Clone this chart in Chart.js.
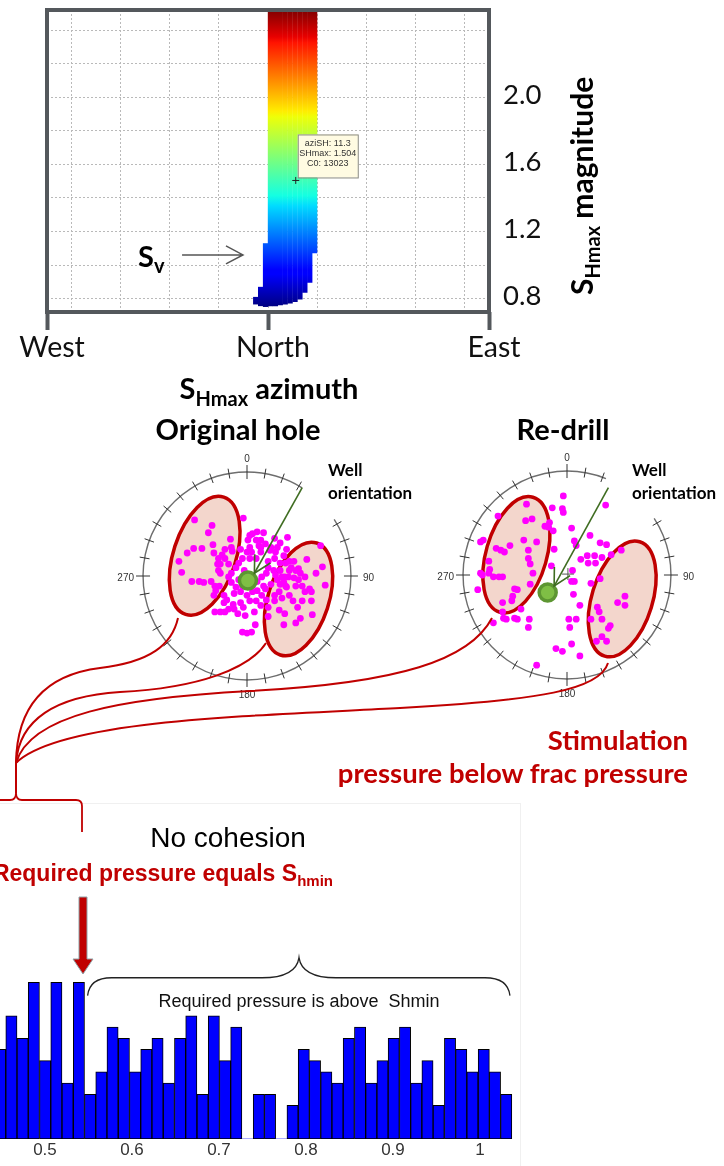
<!DOCTYPE html>
<html>
<head>
<meta charset="utf-8">
<script src="https://cdn.jsdelivr.net/npm/chart.js@4.4.1/dist/chart.umd.min.js"></script>
<style>
  html, body { margin: 0; padding: 0; background: #fff; }
  #page { position: relative; width: 724px; height: 1166px; overflow: hidden; background: #fff; }
  #page canvas, #page svg { position: absolute; }
  #histPanel { position: absolute; left: -1px; top: 803px; width: 520px; height: 380px; border: 1px solid #f0f0f0; }
</style>
</head>
<body>
<div id="page">
  <canvas id="azimuthChart" width="724" height="360" style="left:0;top:0"></canvas>
  <div id="histPanel"></div>
  <canvas id="histChart" width="519" height="363" style="left:0;top:803px"></canvas>
  <canvas id="originalChart" width="300" height="300" style="left:97px;top:426px"></canvas>
  <canvas id="redrillChart" width="300" height="300" style="left:417px;top:425px"></canvas>

  <svg id="overlay" width="724" height="1166" style="left:0;top:0;pointer-events:none">
    <g font-family="Lato, sans-serif" font-weight="bold" fill="#000">
      <text x="269" y="399" font-size="29" text-anchor="middle">S<tspan font-size="20" dy="7">Hmax</tspan><tspan dy="-7"> azimuth</tspan></text>
      <text x="238" y="440" font-size="29" text-anchor="middle">Original hole</text>
      <text x="563" y="440" font-size="29" text-anchor="middle">Re-drill</text>
      <text transform="translate(593,295) rotate(-90)" font-size="30">S<tspan font-size="20" dy="7">Hmax</tspan><tspan dy="-7"> magnitude</tspan></text>
      <text x="328" y="476" font-size="17">Well</text>
      <text x="328" y="499" font-size="17">orientation</text>
      <text x="632" y="476" font-size="17">Well</text>
      <text x="632" y="499" font-size="17">orientation</text>
    </g>

    <!-- links from the stressed zones down to the bracket -->
    <g fill="none" stroke="#c00000" stroke-width="2">
      <path d="M178,618 C172,645 150,662 100,668 C52,674 17,700 16,763"/>
      <path d="M266,643 C250,668 200,688 120,692 C55,696 19,720 16,763"/>
      <path d="M492,618 C470,660 400,683 250,691 C120,698 30,715 16,763"/>
      <path d="M608,663 C600,690 540,700 400,708 C250,716 60,720 16,763"/>
      <path d="M16,763 V793"/>
      <path d="M0,800 H10 Q16,800 16,793 Q16,800 22,800 H76 Q82,800 82,806 V832" stroke-width="1.8"/>
    </g>

    <g font-family="Lato, sans-serif" font-weight="bold" fill="#c00000" font-size="27.5" text-anchor="end">
      <text x="688" y="750">Stimulation</text>
      <text x="688" y="783">pressure below frac pressure</text>
    </g>

    <text x="228" y="847" font-family="'Liberation Sans', Arial, sans-serif" font-size="28" text-anchor="middle" fill="#000">No cohesion</text>
    <text x="333" y="881" font-family="'Liberation Sans', Arial, sans-serif" font-weight="bold" font-size="23" text-anchor="end" fill="#c00000">Required pressure equals S<tspan font-size="15" dy="5">hmin</tspan></text>
    <path d="M79,897 H87 V959 H93 L83,974 L73,959 H79 Z" fill="#c00000" stroke="#8fa3a8" stroke-width="1"/>
  </svg>
</div>

<script>
//Top panel: SHmax azimuth (deg from North) against SHmax magnitude
const azimuthTicks = [-90, 0, 90];
const azimuthTickLabels = ['West', 'North', 'East'];
const azimuthGrid = [-80, -60, -40, -20, 0, 20, 40, 60, 80];
const magnitudeGrid = [0.8, 1.0, 1.2, 1.4, 1.6, 1.8, 2.0, 2.2, 2.4];
const magnitudeTicks = [0.8, 1.2, 1.6, 2.0];

//Failure band: azimuth bins with lowest and highest SHmax
const bandAzimuth = [-5, -3, -1, 1, 3, 5, 7, 9, 11, 13, 15, 17, 19];
const bandLow = [0.765, 0.755, 0.75, 0.755, 0.755, 0.76, 0.765, 0.77, 0.78, 0.795, 0.835, 0.895, 1.07];
const bandHigh = [0.81, 0.87, 1.13, 2.52, 2.52, 2.52, 2.52, 2.52, 2.52, 2.52, 2.52, 2.52, 2.52];

//Picked point
const probeAzimuth = 11.3;
const probeMagnitude = 1.504;
const probeCohesion = 13023;

//Vertical stress marker
const svMagnitude = 1.06;

//Stereonets: poles to fractures (projected, net radius 113)
const netRadius = 113;
const originalPoles = [
  [-57,61],[-38,55],[-42,47],[-74,16],[-71,4],[-65,25],[-58,30],[-49,30],[-37,34],[-18,40],[-36,25],[-27,23],
  [-31,19],[-24,19],[-17,31],[-16,27],[-32,13],[-29,13],[-20,13],[-31,6],[-29,3],[-52,-6],[-47,-7],[-39,-6],
  [-35,-11],[-30,-11],[-34,-16],[-25,-21],[-36,-21],[-60,-6],[-24,29],
  [-4,63],[11,48],[18,47],[10,39],[1,39],[3,31],[15,39],[20,35],[30,41],[44,42],[36,36],[43,29],[40,22],[31,26],
  [25,28],[15,26],[10,19],[3,19],[0,26],[-7,29],[-9,14],[-3,6],[-17,3],[-12,9],[23,16],[30,19],[23,9],[29,6],
  [36,6],[41,-1],[46,6],[51,16],[42,14],[36,14],[33,-4],[26,-9],[18,-11],[11,-16],[16,-21],[6,-17],[0,-21],
  [-7,-17],[-5,-11],[-12,-12],[-17,-7],[-14,-19],[-15,-31],[-22,-26],[-20,-36],[-14,-36],[-24,-39],[-35,-39],
  [-29,-39],[-4,-34],[-7,-29],[10,-27],[8,-39],[-2,-43],[9,-53],[-5,-61],[0,-62],[5,-61],[21,-26],[30,-21],
  [23,-34],[36,-9],[42,-11],[6,46],[13,33],[5,26],[-5,19],[16,-1],[21,3],[11,-6],[1,-11],[-9,-4],[-20,-1],
  [31,1],[38,-1],[20,-14],[3,-27],[15,-32],[26,31],[33,31],[3,44],[15,31],[-25,-29],[-10,-41],
  [65,18],[82,10],[85,-10],[80,33],[58,3],[56,-4],[53,-11],[60,-11],[63,-17],[68,-14],[70,-17],[46,16],
  [40,-7],[43,-12],[35,-17],[38,-24],[46,-21],[50,-27],[60,-27],[70,-27],[55,-34],[41,-41],[35,-37],[23,-44],
  [40,-53],[53,-51],[58,-46],[71,-42],[30,-27],[56,8],[63,-1],[51,-2],[45,-1],[48,9],[75,3],[53,6]
];
const redrillPoles = [
  [-4,86],[-5,72],[-4,68],[-16,73],[-24,53],[-20,52],[-15,48],[5,51],[25,43],[42,76],[8,37],[10,32],[22,21],
  [30,21],[38,19],[36,35],[43,33],[59,27],[48,22],[31,13],[23,13],[15,17],[6,5],[5,-7],[8,-7],[7,-21],[-14,28],
  [-17,10],[14,-33],[26,-9],[36,-4],[33,-35],[26,-48],[35,-40],[38,-48],[45,-58],[47,-55],[55,-30],[63,-23],
  [63,-33],[38,-67],[43,-72],[32,-72],[2,-48],[3,-57],[10,-48],[5,-75],[-12,-80],[-5,-83],[14,-88],[-33,-98],
  [-42,-57],[-41,-48],[-57,-47],[-54,-48],[-66,-48],[-69,-47],[-80,-52],[-70,-40],[-50,-37],[-60,-28],[-57,-15],
  [-54,-16],[-40,-10],[-37,2],[-40,12],[-42,18],[-47,38],[-33,36],[-42,27],[-62,32],[-77,29],[-72,27],[-68,25],
  [-94,36],[-91,38],[-94,2],[-92,0],[-84,6],[-80,-2],[-74,-2],[-70,-2],[-85,2],[-97,-16],[-44,77],[-45,59],
  [-38,61],[-75,64],[-59,-23],[-70,-30],[-85,15],[-19,57]
];
const originalWellPole = [1, -5];
const redrillWellPole = [-21, -19];
const originalWell = { tail: [60, 96], tip: [8, 3] };
const redrillWell = { tail: [45, 95], tip: [-14, -12] };
const redrillCentre = [1, 1];

//Bottom panel: histogram of required pressure (no cohesion)
const binCentres = [
  0.4485, 0.4614, 0.4743, 0.4872, 0.5002, 0.5131, 0.5260, 0.5390, 0.5519, 0.5648, 0.5777, 0.5907,
  0.6036, 0.6165, 0.6294, 0.6424, 0.6553, 0.6682, 0.6812, 0.6941, 0.7070, 0.7199, 0.7329, 0.7458,
  0.7587, 0.7717, 0.7846, 0.7975, 0.8104, 0.8234, 0.8363, 0.8492, 0.8622, 0.8751, 0.8880, 0.9009,
  0.9139, 0.9268, 0.9397, 0.9526, 0.9656, 0.9785, 0.9914, 1.0044, 1.0173, 1.0302
];
const binCounts = [
  8, 11, 9, 14, 7, 14, 5, 14, 4, 6, 10, 9, 6, 8, 9, 5, 9, 11, 4, 11, 7, 10, 0,
  4, 4, 0, 3, 8, 7, 6, 5, 9, 10, 5, 7, 9, 10, 5, 7, 3, 9, 8, 6, 8, 6, 4
];
const pressureTicks = [0.5, 0.6, 0.7, 0.8, 0.9, 1.0];

//Jet colour map over the magnitude range
const colourLow = 0.75;
const colourHigh = 2.52;
const jetStops = [
  [0, '#000080'], [0.11, '#0000ff'], [0.125, '#0000ff'], [0.34, '#00dbff'], [0.375, '#14ffe2'],
  [0.64, '#eeff08'], [0.66, '#ffec00'], [0.89, '#ff1300'], [0.91, '#e80000'], [1, '#800000']
];

function jetFill(context) {
  const chart = context.chart;
  if (!chart.chartArea) return '#0000ff';
  const y = chart.scales.y;
  const g = chart.ctx.createLinearGradient(0, y.getPixelForValue(colourLow), 0, y.getPixelForValue(colourHigh));
  jetStops.forEach(([t, c]) => g.addColorStop(t, c));
  return g;
}

function setTicks(values) {
  return scale => { scale.ticks = values.map(v => ({ value: v })); };
}

const frameColour = '#54585c';
const gridColour = '#b9b9b9';

//Plot frame, Sv arrow and readout box
const azimuthDecor = {
  id: 'azimuthDecor',
  afterDatasetsDraw(chart) {
    const { ctx, scales: { x, y } } = chart;
    ctx.save();

    //Sv marker
    const sy = y.getPixelForValue(svMagnitude);
    const ax0 = x.getPixelForValue(-35);
    const ax1 = x.getPixelForValue(-10.2);
    ctx.strokeStyle = '#555';
    ctx.lineWidth = 1.5;
    ctx.beginPath();
    ctx.moveTo(ax0, sy);
    ctx.lineTo(ax1, sy);
    ctx.moveTo(ax1 - 17, sy - 9);
    ctx.lineTo(ax1, sy);
    ctx.lineTo(ax1 - 17, sy + 9);
    ctx.stroke();

    const sx = x.getPixelForValue(-52.9);
    ctx.fillStyle = '#000';
    ctx.textAlign = 'left';
    ctx.textBaseline = 'alphabetic';
    ctx.font = 'bold 29px Lato';
    ctx.fillText('S', sx, sy + 12);
    const sw = ctx.measureText('S').width;
    ctx.font = 'bold 20px Lato';
    ctx.fillText('v', sx + sw, sy + 18);

    //Readout
    const px = x.getPixelForValue(probeAzimuth);
    const py = y.getPixelForValue(probeMagnitude);
    ctx.fillStyle = '#fffbe2';
    ctx.strokeStyle = '#8a8a80';
    ctx.lineWidth = 1;
    ctx.fillRect(px + 2, py - 46, 60, 43);
    ctx.strokeRect(px + 2.5, py - 45.5, 60, 43);
    ctx.fillStyle = '#333';
    ctx.font = '9px "Liberation Sans", Arial, sans-serif';
    ctx.textAlign = 'center';
    ctx.textBaseline = 'middle';
    ctx.fillText('aziSH: ' + probeAzimuth, px + 32, py - 37);
    ctx.fillText('SHmax: ' + probeMagnitude, px + 32, py - 27);
    ctx.fillText('C0: ' + probeCohesion, px + 32, py - 17);
    ctx.restore();
  },
  afterDraw(chart) {
    const { ctx, chartArea: a } = chart;
    ctx.save();
    ctx.strokeStyle = frameColour;
    ctx.lineWidth = 4;
    ctx.strokeRect(a.left, a.top, a.right - a.left, a.bottom - a.top);
    ctx.restore();
  }
};

new Chart(document.getElementById('azimuthChart'), {
  type: 'bar',
  data: {
    datasets: [
      {
        type: 'scatter',
        data: [{ x: probeAzimuth, y: probeMagnitude }],
        pointStyle: 'cross',
        pointRadius: 3.5,
        borderColor: '#222',
        borderWidth: 1
      },
      {
        data: bandAzimuth.map((a, i) => ({ x: a, y: [bandLow[i], bandHigh[i]] })),
        backgroundColor: jetFill,
        borderWidth: 0,
        barPercentage: 1.08,
        categoryPercentage: 1
      }
    ]
  },
  options: {
    responsive: false,
    animation: false,
    devicePixelRatio: 1,
    events: [],
    layout: { padding: { top: 10, left: 0, right: 0, bottom: 0 } },
    plugins: { legend: { display: false }, tooltip: { enabled: false } },
    scales: {
      x: {
        type: 'linear',
        min: -90,
        max: 90,
        offset: false,
        afterBuildTicks: setTicks([-90, ...azimuthGrid, 90]),
        afterFit: s => { s.height = 48; s.paddingLeft = 0; s.paddingRight = 0; },
        border: { display: false, dash: [2, 2] },
        grid: {
          offset: false,
          lineWidth: 1,
          tickLength: 18,
          tickWidth: 4,
          color: c => azimuthGrid.includes(c.tick.value) ? gridColour : 'rgba(0,0,0,0)',
          tickColor: c => azimuthTicks.includes(c.tick.value) ? frameColour : 'rgba(0,0,0,0)'
        },
        ticks: {
          autoSkip: false,
          maxRotation: 0,
          padding: 1,
          labelOffset: 5,
          color: '#111',
          font: { family: 'Lato', size: 28.5 },
          callback: v => {
            const i = azimuthTicks.indexOf(v);
            return i >= 0 ? azimuthTickLabels[i] : '';
          }
        }
      },
      y: {
        type: 'linear',
        position: 'left',
        min: 0.72,
        max: 2.52,
        afterBuildTicks: setTicks(magnitudeGrid),
        afterFit: s => { s.width = 47; s.paddingTop = 0; s.paddingBottom = 0; },
        border: { display: false, dash: [2, 2] },
        grid: { color: gridColour, lineWidth: 1, drawTicks: false },
        ticks: { display: false }
      },
      y2: {
        type: 'linear',
        position: 'right',
        min: 0.72,
        max: 2.52,
        afterBuildTicks: setTicks(magnitudeTicks),
        afterFit: s => { s.width = 235; s.paddingTop = 0; s.paddingBottom = 0; },
        border: { display: false },
        grid: { display: false, drawTicks: false, tickLength: 0 },
        ticks: {
          padding: 14,
          labelOffset: -2,
          color: '#111',
          font: { family: 'Lato', size: 27.5 },
          callback: v => v.toFixed(1)
        }
      }
    }
  },
  plugins: [azimuthDecor]
});

//Stereonet frame: ring, ticks, azimuth labels, stressed zones, well arrowhead
function stereonetFrame(cfg) {
  const rad = d => d * Math.PI / 180;
  return {
    id: 'stereonetFrame',
    beforeDatasetsDraw(chart) {
      const { ctx, scales: { x, y } } = chart;
      const cx = x.getPixelForValue(0);
      const cy = y.getPixelForValue(0);
      const unit = x.getPixelForValue(1) - cx;
      const r = netRadius * unit;
      ctx.save();

      ctx.strokeStyle = '#6e6e6e';
      ctx.lineWidth = 1.4;
      ctx.beginPath();
      ctx.arc(cx, cy, r, rad(cfg.gap[1] - 90), rad(cfg.gap[0] + 270));
      ctx.stroke();

      ctx.strokeStyle = '#333';
      ctx.lineWidth = 1;
      for (let a = 0; a < 360; a += 10) {
        if (a > cfg.gap[0] && a < cfg.gap[1]) continue;
        const s = Math.sin(rad(a));
        const c = Math.cos(rad(a));
        const len = a % 90 === 0 ? 7 : 5;
        ctx.beginPath();
        ctx.moveTo(cx + (r - len) * s, cy - (r - len) * c);
        ctx.lineTo(cx + (r + len) * s, cy - (r + len) * c);
        ctx.stroke();
      }

      ctx.fillStyle = '#333';
      ctx.font = '10px "Liberation Sans", Arial, sans-serif';
      ctx.textBaseline = 'middle';
      ctx.textAlign = 'center';
      ctx.fillText('0', cx, cy - r - 13);
      ctx.fillText('180', cx, cy + r + 15);
      ctx.textAlign = 'left';
      ctx.fillText('90', cx + r + 12, cy + 2);
      ctx.textAlign = 'right';
      ctx.fillText('270', cx - r - 9, cy + 2);

      cfg.zones.forEach(z => {
        ctx.beginPath();
        ctx.ellipse(x.getPixelForValue(z.x), y.getPixelForValue(z.y), z.minor * unit, z.major * unit, rad(z.tilt), 0, 2 * Math.PI);
        ctx.fillStyle = '#f3d6cc';
        ctx.fill();
        ctx.lineWidth = 3.5;
        ctx.strokeStyle = '#c00000';
        ctx.stroke();
      });
      ctx.restore();
    },
    afterDatasetsDraw(chart) {
      const { ctx, scales: { x, y } } = chart;
      const tx = x.getPixelForValue(cfg.well.tip[0]);
      const ty = y.getPixelForValue(cfg.well.tip[1]);
      const bx = x.getPixelForValue(cfg.well.tail[0]);
      const by = y.getPixelForValue(cfg.well.tail[1]);
      const ang = Math.atan2(by - ty, bx - tx);
      ctx.save();
      ctx.strokeStyle = '#3f6d21';
      ctx.lineWidth = 1.6;
      ctx.beginPath();
      ctx.moveTo(tx + 19 * Math.cos(ang - 0.49), ty + 19 * Math.sin(ang - 0.49));
      ctx.lineTo(tx, ty);
      ctx.lineTo(tx + 19 * Math.cos(ang + 0.49), ty + 19 * Math.sin(ang + 0.49));
      ctx.stroke();
      ctx.restore();
    }
  };
}

function drawStereonet(canvasId, poles, wellPole, well, zones, gap, centre) {
  const datasets = [
    {
      type: 'line',
      data: [{ x: well.tail[0], y: well.tail[1] }, { x: well.tip[0], y: well.tip[1] }],
      borderColor: '#3f6d21',
      borderWidth: 1.6,
      pointRadius: 0,
      fill: false
    },
    {
      data: [{ x: wellPole[0], y: wellPole[1] }],
      pointRadius: 8.5,
      backgroundColor: '#7fbf45',
      borderColor: '#5d9632',
      borderWidth: 3.5
    },
    {
      data: poles.map(p => ({ x: p[0], y: p[1] })),
      pointRadius: 3.4,
      backgroundColor: '#ff00ff',
      borderWidth: 0
    }
  ];
  if (centre) {
    datasets.splice(1, 0, {
      data: [{ x: centre[0], y: centre[1] }],
      pointStyle: 'cross',
      pointRadius: 6,
      borderColor: '#555',
      borderWidth: 1
    });
  }

  new Chart(document.getElementById(canvasId), {
    type: 'scatter',
    data: { datasets },
    options: {
      responsive: false,
      animation: false,
      devicePixelRatio: 1,
      events: [],
      layout: { padding: 0 },
      plugins: { legend: { display: false }, tooltip: { enabled: false } },
      scales: {
        x: { type: 'linear', min: -150, max: 150, display: false },
        y: { type: 'linear', min: -150, max: 150, display: false }
      }
    },
    plugins: [stereonetFrame({ zones, gap, well })]
  });
}

drawStereonet('originalChart', originalPoles, originalWellPole, originalWell, [
  { x: -46, y: 22, major: 67, minor: 34, tilt: 18 },
  { x: 56, y: -25, major: 64, minor: 33, tilt: 18 }
], [32, 57]);

drawStereonet('redrillChart', redrillPoles, redrillWellPole, redrillWell, [
  { x: -55, y: 22, major: 65, minor: 33, tilt: 16 },
  { x: 60, y: -26, major: 65, minor: 33, tilt: 17 }
], [22, 57], redrillCentre);

//Histogram brace over the bins above Shmin
const histBrace = {
  id: 'histBrace',
  afterDatasetsDraw(chart) {
    const { ctx, scales: { x, y } } = chart;
    const xl = x.getPixelForValue(0.549);
    const xr = x.getPixelForValue(1.0345);
    const xc = x.getPixelForValue(0.792);
    const yf = y.getPixelForValue(12.8);
    const yl = y.getPixelForValue(14.4);
    const ya = y.getPixelForValue(16.2);
    ctx.save();
    ctx.strokeStyle = '#222';
    ctx.lineWidth = 1.3;
    ctx.beginPath();
    ctx.moveTo(xl, yf);
    ctx.quadraticCurveTo(xl + 2, yl, xl + 24, yl);
    ctx.lineTo(xc - 37, yl);
    ctx.quadraticCurveTo(xc - 3, yl, xc, ya);
    ctx.quadraticCurveTo(xc + 3, yl, xc + 37, yl);
    ctx.lineTo(xr - 25, yl);
    ctx.quadraticCurveTo(xr - 2, yl, xr, yf);
    ctx.stroke();
    ctx.fillStyle = '#111';
    ctx.font = '18px "Liberation Sans", Arial, sans-serif';
    ctx.textAlign = 'center';
    ctx.textBaseline = 'middle';
    ctx.fillText('Required pressure is above  Shmin', xc, y.getPixelForValue(12.2));
    ctx.restore();
  }
};

new Chart(document.getElementById('histChart'), {
  type: 'bar',
  data: {
    datasets: [{
      data: binCentres.map((c, i) => ({ x: c, y: binCounts[i] })),
      backgroundColor: '#0000ff',
      borderColor: '#000',
      borderWidth: c => (c.raw && c.raw.y > 0 ? 1 : 0),
      borderSkipped: false,
      barPercentage: 1,
      categoryPercentage: 1
    }]
  },
  options: {
    responsive: false,
    animation: false,
    devicePixelRatio: 1,
    events: [],
    layout: { padding: { top: 137, left: 0, right: 0, bottom: 0 } },
    plugins: { legend: { display: false }, tooltip: { enabled: false } },
    scales: {
      x: {
        type: 'linear',
        min: 0.4483,
        max: 1.0449,
        offset: false,
        afterBuildTicks: setTicks(pressureTicks),
        afterFit: s => { s.height = 27; s.paddingLeft = 0; s.paddingRight = 0; },
        border: { display: false },
        grid: { display: false, drawTicks: false, offset: false },
        ticks: {
          autoSkip: false,
          maxRotation: 0,
          padding: 1,
          color: '#333',
          font: { family: '"Liberation Sans", Arial, sans-serif', size: 17 },
          callback: v => (v === 1 ? '1' : v.toFixed(1))
        }
      },
      y: { display: false, min: 0, max: 17.77 }
    }
  },
  plugins: [histBrace]
});
</script>
</body>
</html>
